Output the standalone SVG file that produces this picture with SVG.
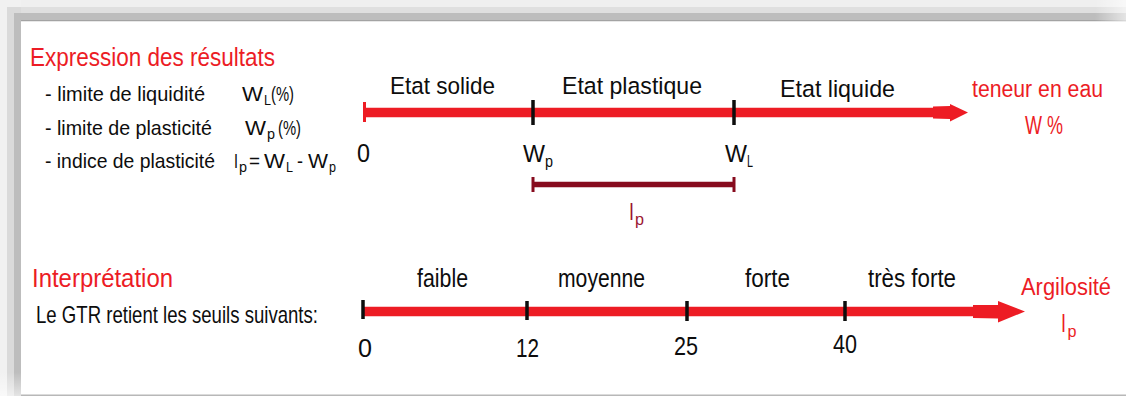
<svg xmlns="http://www.w3.org/2000/svg" width="1126" height="396" viewBox="0 0 1126 396">
  <defs>
    <style>
      text { font-family: "Liberation Sans", Arial, sans-serif; }
      .red { fill: #ec1c25; }
      .blk { fill: #0d0d0d; }
      .dk { fill: #9a1631; }
      .axis { stroke: #ed1c24; stroke-width: 9.5; fill: none; }
      .tick { stroke: #0d0d0d; stroke-width: 3.5; }
      .head { fill: #ed1c24; }
    </style>
    <linearGradient id="fadeRight" x1="0" y1="0" x2="1" y2="0">
      <stop offset="0" stop-color="#ffffff" stop-opacity="0"/>
      <stop offset="1" stop-color="#ffffff" stop-opacity="0.6"/>
    </linearGradient>
    <linearGradient id="fadeBottom" x1="0" y1="0" x2="0" y2="1">
      <stop offset="0" stop-color="#ffffff" stop-opacity="0"/>
      <stop offset="1" stop-color="#ffffff" stop-opacity="0.6"/>
    </linearGradient>
  </defs>

  <!-- page and drop shadow frame -->
  <rect x="0" y="0" width="1126" height="396" fill="#ffffff"/>
  <rect x="0" y="0" width="1126" height="21" fill="#efefef"/>
  <rect x="0" y="7" width="1126" height="14" fill="#dfdfdf"/>
  <rect x="0" y="13" width="1126" height="8" fill="#bdbdbd"/>
  <rect x="0" y="20" width="1126" height="1.5" fill="#a3a3a3"/>
  <rect x="1095" y="0" width="31" height="21.5" fill="url(#fadeRight)"/>
  <rect x="0" y="0" width="21" height="396" fill="#f1f1f1"/>
  <rect x="7" y="7" width="14" height="389" fill="#dadada"/>
  <rect x="14" y="13" width="7" height="383" fill="#bdbdbd"/>
  <rect x="0" y="372" width="21" height="24" fill="url(#fadeBottom)"/>
  <rect x="21" y="21.5" width="1105" height="373" fill="#ffffff"/>
  <rect x="21" y="394.5" width="1105" height="1.5" fill="#b8b8b8"/>

  <!-- section 1: consistency limits -->
  <g id="title-expression">
    <text x="30" y="66" font-size="26.5" class="red" textLength="245" lengthAdjust="spacingAndGlyphs">Expression des résultats</text>
  </g>
  <g id="list-definitions" class="blk">
    <text x="45" y="101" font-size="21" textLength="160" lengthAdjust="spacingAndGlyphs">- limite de liquidité</text>
    <text x="242" y="101" font-size="20.5" textLength="21" lengthAdjust="spacingAndGlyphs">W</text>
    <text x="264" y="104.5" font-size="14" textLength="7" lengthAdjust="spacingAndGlyphs">L</text>
    <text x="271" y="101" font-size="21" textLength="23" lengthAdjust="spacingAndGlyphs">(%)</text>

    <text x="45" y="135" font-size="21" textLength="167" lengthAdjust="spacingAndGlyphs">- limite de plasticité</text>
    <text x="245" y="135" font-size="20.5" textLength="21" lengthAdjust="spacingAndGlyphs">W</text>
    <text x="267" y="138.5" font-size="14" textLength="8" lengthAdjust="spacingAndGlyphs">p</text>
    <text x="278" y="135" font-size="21" textLength="23" lengthAdjust="spacingAndGlyphs">(%)</text>

    <text x="45" y="168" font-size="21" textLength="170" lengthAdjust="spacingAndGlyphs">- indice de plasticité</text>
    <text x="234" y="168" font-size="20.5" textLength="4" lengthAdjust="spacingAndGlyphs">I</text>
    <text x="239" y="171.5" font-size="14" textLength="8" lengthAdjust="spacingAndGlyphs">p</text>
    <text x="249" y="168" font-size="20" textLength="11" lengthAdjust="spacingAndGlyphs">=</text>
    <text x="264" y="168" font-size="20.5" textLength="21" lengthAdjust="spacingAndGlyphs">W</text>
    <text x="286" y="171.5" font-size="14" textLength="7" lengthAdjust="spacingAndGlyphs">L</text>
    <text x="297" y="168" font-size="20" textLength="6" lengthAdjust="spacingAndGlyphs">-</text>
    <text x="308" y="168" font-size="20.5" textLength="20" lengthAdjust="spacingAndGlyphs">W</text>
    <text x="329" y="171.5" font-size="14" textLength="7" lengthAdjust="spacingAndGlyphs">p</text>
  </g>

  <g id="connectors">
    <!-- water content axis -->
    <line class="axis" x1="363" y1="112.5" x2="935" y2="112.5"/>
    <polygon class="head" points="933,106.5 950,106 950,104 968,112.5 950,121.5 950,119 933,118.5"/>
    <line x1="364.5" y1="102" x2="364.5" y2="122" stroke="#ed1c24" stroke-width="3"/>
    <line class="tick" x1="533" y1="100" x2="533" y2="125"/>
    <line class="tick" x1="734" y1="100" x2="734" y2="125"/>
    <!-- plasticity index span -->
    <line x1="532" y1="184.5" x2="735" y2="184.5" stroke="#870b1e" stroke-width="5.5"/>
    <line x1="533" y1="177" x2="533" y2="192" stroke="#870b1e" stroke-width="3"/>
    <line x1="734" y1="177" x2="734" y2="192" stroke="#870b1e" stroke-width="3"/>
    <!-- clay activity axis -->
    <line class="axis" x1="363" y1="311.5" x2="975" y2="311.5"/>
    <polygon class="head" points="973,305 998,305 998,301 1025,311.5 998,322.5 998,318.5 973,318"/>
    <line class="tick" x1="363" y1="300" x2="363" y2="319"/>
    <line class="tick" x1="527" y1="301" x2="527" y2="320"/>
    <line class="tick" x1="687" y1="301" x2="687" y2="321"/>
    <line class="tick" x1="845" y1="301" x2="845" y2="321"/>
  </g>

  <g id="states" class="blk">
    <text x="390" y="94" font-size="24.5" textLength="105" lengthAdjust="spacingAndGlyphs">Etat solide</text>
    <text x="562" y="94" font-size="24.5" textLength="140" lengthAdjust="spacingAndGlyphs">Etat plastique</text>
    <text x="780" y="97" font-size="24.5" textLength="115" lengthAdjust="spacingAndGlyphs">Etat liquide</text>
  </g>
  <g id="water-axis-labels" class="blk">
    <text x="357" y="162" font-size="25" textLength="13" lengthAdjust="spacingAndGlyphs">0</text>
    <text x="523" y="162" font-size="23.5" textLength="22" lengthAdjust="spacingAndGlyphs">W</text>
    <text x="545" y="166.5" font-size="16" textLength="8" lengthAdjust="spacingAndGlyphs">p</text>
    <text x="725" y="162" font-size="23.5" textLength="22" lengthAdjust="spacingAndGlyphs">W</text>
    <text x="747" y="166.5" font-size="16" textLength="6" lengthAdjust="spacingAndGlyphs">L</text>
  </g>
  <g id="water-axis-title" class="red">
    <text x="972" y="97" font-size="23.5" textLength="131" lengthAdjust="spacingAndGlyphs">teneur en eau</text>
    <text x="1025" y="134" font-size="26" textLength="38" lengthAdjust="spacingAndGlyphs">W %</text>
  </g>
  <g id="ip-label" class="dk">
    <text x="629" y="220" font-size="24" textLength="5" lengthAdjust="spacingAndGlyphs">I</text>
    <text x="635" y="225" font-size="17" textLength="9" lengthAdjust="spacingAndGlyphs">p</text>
  </g>

  <!-- section 2: interpretation -->
  <g id="title-interpretation">
    <text x="32" y="287" font-size="25.5" class="red" textLength="141" lengthAdjust="spacingAndGlyphs">Interprétation</text>
  </g>
  <g id="gtr-note" class="blk">
    <text x="36" y="323" font-size="24" textLength="282" lengthAdjust="spacingAndGlyphs">Le GTR retient les seuils suivants:</text>
  </g>
  <g id="classes" class="blk">
    <text x="417" y="287" font-size="25.5" textLength="51" lengthAdjust="spacingAndGlyphs">faible</text>
    <text x="558" y="287" font-size="25.5" textLength="87" lengthAdjust="spacingAndGlyphs">moyenne</text>
    <text x="745" y="287" font-size="25.5" textLength="45" lengthAdjust="spacingAndGlyphs">forte</text>
    <text x="868" y="287" font-size="25.5" textLength="88" lengthAdjust="spacingAndGlyphs">très forte</text>
  </g>
  <g id="thresholds" class="blk">
    <text x="358" y="357" font-size="25" textLength="14" lengthAdjust="spacingAndGlyphs">0</text>
    <text x="516" y="357" font-size="25" textLength="23" lengthAdjust="spacingAndGlyphs">12</text>
    <text x="674" y="355" font-size="25" textLength="24" lengthAdjust="spacingAndGlyphs">25</text>
    <text x="833" y="353" font-size="25" textLength="24" lengthAdjust="spacingAndGlyphs">40</text>
  </g>
  <g id="clay-axis-title" class="red">
    <text x="1061" y="332" font-size="25" textLength="5" lengthAdjust="spacingAndGlyphs">I</text>
    <text x="1067.5" y="337" font-size="17" textLength="9" lengthAdjust="spacingAndGlyphs">p</text>
    <text x="1021" y="295" font-size="23.5" textLength="90" lengthAdjust="spacingAndGlyphs">Argilosité</text>
  </g>
</svg>
